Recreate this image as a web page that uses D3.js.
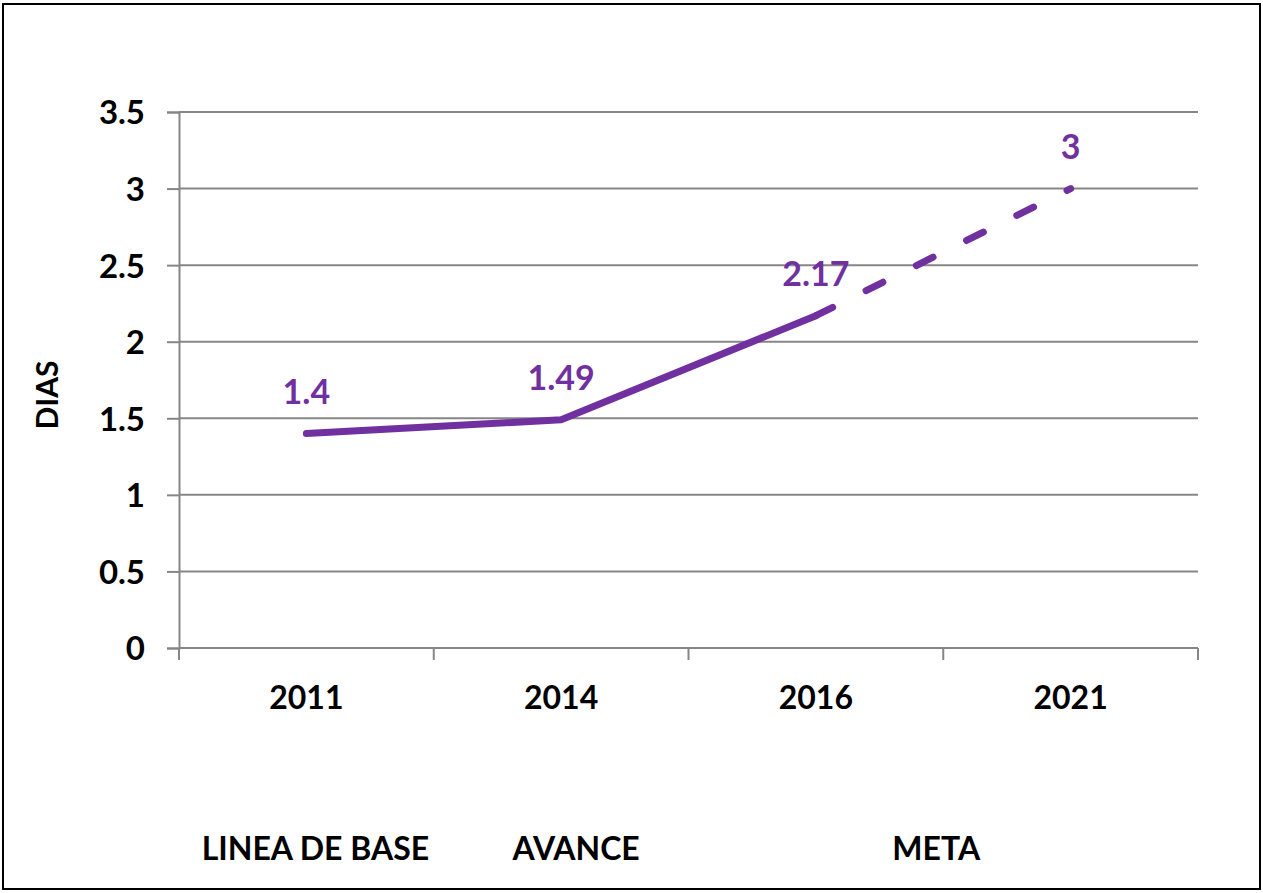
<!DOCTYPE html>
<html>
<head>
<meta charset="utf-8">
<script src="https://cdn.jsdelivr.net/npm/d3@7"></script>
<style>
  body { margin: 0; background: #fff; }
  text { font-family: Lato, 'Open Sans', sans-serif; font-weight: bold; }
</style>
</head>
<body>
<div id="chart"></div>
<script>
const years = ['2011', '2014', '2016', '2021']
const values = [1.4, 1.49, 2.17, 3]
const yTicks = [0, 0.5, 1, 1.5, 2, 2.5, 3, 3.5]
const phases = [
  { label: 'LINEA DE BASE', at: '2011' },
  { label: 'AVANCE', at: '2014' },
  { label: 'META', at: '2016', to: '2021' }
]
const purple = '#7030a0'
const gridColor = '#868686'

const W = 1263, H = 893
const margin = { top: 112, left: 179, right: 65, bottom: 245 }
const width = W - margin.left - margin.right
const height = H - margin.top - margin.bottom

const svg = d3.select('#chart').append('svg')
  .attr('width', W).attr('height', H)

// outer frame
svg.append('rect')
  .attr('x', 3).attr('y', 4)
  .attr('width', 1257).attr('height', 885)
  .attr('fill', 'none').attr('stroke', '#000').attr('stroke-width', 2)

const g = svg.append('g')
  .attr('transform', `translate(${margin.left},${margin.top})`)

const x = d3.scaleBand().domain(years).range([0, width]).padding(0)
const y = d3.scaleLinear().domain([0, 3.5]).range([height, 0])
const cx = d => x(d) + x.bandwidth() / 2

// gridlines
g.selectAll('.grid').data(yTicks.filter(d => d > 0)).enter()
  .append('line')
  .attr('x1', 0).attr('x2', width)
  .attr('y1', d => y(d)).attr('y2', d => y(d))
  .attr('stroke', gridColor).attr('stroke-width', 2)

// y axis
const yAxis = g.append('g')
  .call(d3.axisLeft(y).tickValues(yTicks).tickSize(12).tickPadding(22)
    .tickFormat(d => d))
yAxis.select('.domain').attr('stroke', gridColor).attr('stroke-width', 2)
yAxis.selectAll('.tick line').attr('stroke', gridColor).attr('stroke-width', 2)
yAxis.selectAll('.tick text')
  .attr('fill', '#000').style('font-size', '33px').attr('dy', '0.36em')

// x axis: ticks at band boundaries
const xAxis = g.append('g').attr('transform', `translate(0,${height})`)
xAxis.append('line')
  .attr('x1', 0).attr('x2', width)
  .attr('stroke', gridColor).attr('stroke-width', 2)
const bounds = years.map(d => x(d)).concat([width])
xAxis.selectAll('.xt').data(bounds).enter()
  .append('line')
  .attr('x1', d => d).attr('x2', d => d)
  .attr('y1', 0).attr('y2', 12)
  .attr('stroke', gridColor).attr('stroke-width', 2)
xAxis.selectAll('.xl').data(years).enter()
  .append('text')
  .attr('x', d => cx(d)).attr('y', 61)
  .attr('text-anchor', 'middle')
  .style('font-size', '32px')
  .text(d => d)

// phase labels under axis
g.selectAll('.phase').data(phases).enter()
  .append('text')
  .attr('x', d => d.to ? (cx(d.at) + cx(d.to)) / 2 - 7 : cx(d.at) + (d.at === '2011' ? 9 : 15))
  .attr('y', height + 212)
  .attr('text-anchor', 'middle')
  .style('font-size', '32px')
  .text(d => d.label)

// y title
svg.append('text')
  .attr('transform', 'translate(58,395) rotate(-90)')
  .attr('text-anchor', 'middle')
  .style('font-size', '30px')
  .text('DIAS')

const pts = years.map((d, i) => [cx(d), y(values[i])])
const line = d3.line()

g.append('path')
  .attr('d', line(pts.slice(0, 3)))
  .attr('fill', 'none').attr('stroke', purple)
  .attr('stroke-width', 7).attr('stroke-linecap', 'round')
  .attr('stroke-linejoin', 'round')

const dashed = g.append('path')
  .attr('d', line(pts.slice(2)))
  .attr('fill', 'none').attr('stroke', purple)
  .attr('stroke-width', 7).attr('stroke-linecap', 'round')
const L = dashed.node().getTotalLength()
const n = Math.round(L / 57)
const period = (L - 4) / n
dashed.attr('stroke-dasharray', `${period / 3},${period * 2 / 3}`)

// data labels
g.selectAll('.dl').data(years).enter()
  .append('text')
  .attr('x', d => cx(d))
  .attr('y', (d, i) => y(values[i]) - 30)
  .attr('text-anchor', 'middle')
  .attr('fill', purple)
  .style('font-size', '34px')
  .text((d, i) => values[i])
</script>
</body>
</html>
